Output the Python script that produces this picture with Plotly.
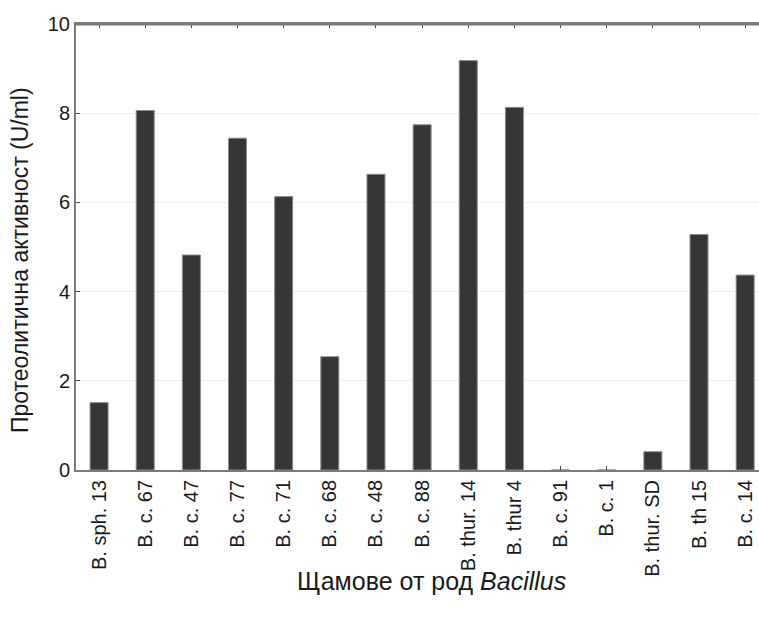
import plotly.graph_objects as go

# Bacillus strains and their proteolytic activity (U/ml)
strains = [
    "B. sph. 13", "B. c. 67", "B. c. 47", "B. c. 77", "B. c. 71",
    "B. c. 68", "B. c. 48", "B. c. 88", "B. thur. 14", "B. thur 4",
    "B. c. 91", "B. c. 1", "B. thur. SD", "B. th 15", "B. c. 14",
]
activity = [1.51, 8.06, 4.82, 7.44, 6.13, 2.54, 6.63, 7.74, 9.18, 8.13,
            0.0, 0.0, 0.41, 5.28, 4.37]
y_ticks = [0, 2, 4, 6, 8, 10]

FONT = "Liberation Sans, Arial, sans-serif"

fig = go.Figure(
    go.Bar(
        x=list(range(len(strains))),
        y=activity,
        width=0.39,
        marker=dict(color="#363636", line=dict(color="#8a8a8a", width=1)),
    )
)

fig.update_layout(
    width=759,
    height=617,
    margin=dict(l=76, r=0, t=24, b=147),
    paper_bgcolor="white",
    plot_bgcolor="white",
    showlegend=False,
    font=dict(family=FONT, color="#1a1a1a", size=20),
    annotations=[
        dict(
            text="Щамове от род <i>Bacillus</i>",
            xref="paper", yref="paper", x=0.521, y=-0.249,
            xanchor="center", yanchor="middle", showarrow=False,
            font=dict(size=25),
        ),
        dict(
            text="Протеолитична активност (U/ml)",
            xref="paper", yref="paper", x=-0.081, y=0.47,
            xanchor="center", yanchor="middle", showarrow=False,
            textangle=-90, font=dict(size=23),
        ),
    ],
    shapes=[
        # frame line along the top of the plotting area
        dict(type="line", xref="paper", yref="paper", x0=0, x1=1, y0=1, y1=1,
             line=dict(color="#7a7a7a", width=3), layer="above"),
    ],
)

fig.update_xaxes(
    range=[-0.5, 14.3],
    tickmode="array",
    tickvals=list(range(len(strains))),
    ticktext=strains,
    tickangle=-90,
    tickfont=dict(size=20),
    ticks="inside",
    ticklen=4,
    tickcolor="#444444",
    showline=True,
    linecolor="#7a7a7a",
    linewidth=2,
    mirror="ticks",
    showgrid=False,
    zeroline=False,
)

fig.update_yaxes(
    range=[0, 10],
    tickmode="array",
    tickvals=y_ticks,
    ticks="inside",
    ticklen=4,
    tickcolor="#444444",
    tickfont=dict(size=20),
    showline=True,
    linecolor="#7a7a7a",
    linewidth=2,
    showgrid=True,
    gridcolor="#efefef",
    gridwidth=1,
    zeroline=False,
)

fig.write_html("out.html")
